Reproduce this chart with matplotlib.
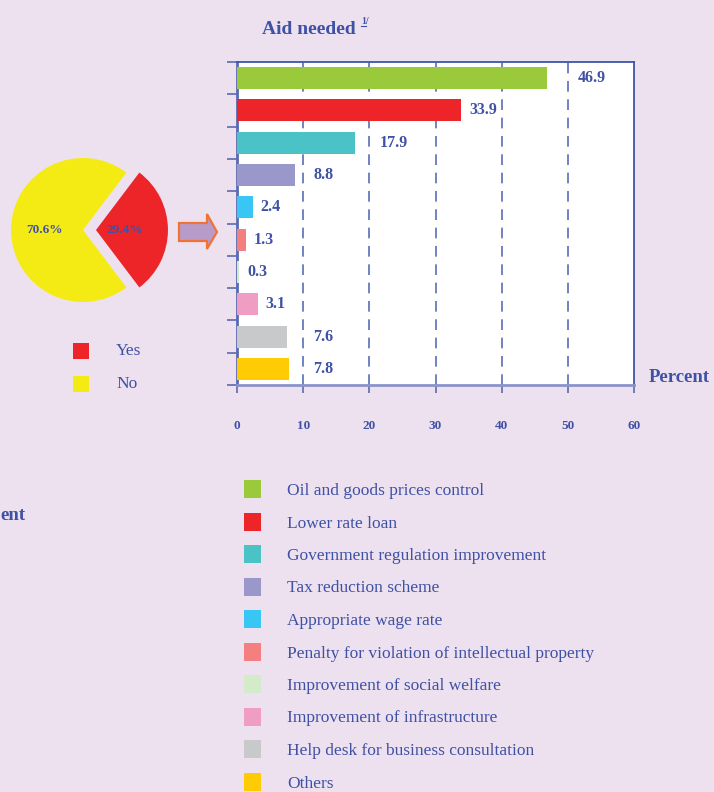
import numpy as np
import matplotlib
matplotlib.use("Agg")
import matplotlib.pyplot as plt
from matplotlib.patches import Rectangle, Polygon

# ---- data ----
categories = [
    "Oil and goods prices control",
    "Lower rate loan",
    "Government regulation improvement",
    "Tax reduction scheme",
    "Appropriate wage rate",
    "Penalty for violation of intellectual property",
    "Improvement of social welfare",
    "Improvement of infrastructure",
    "Help desk for business consultation",
    "Others",
]
aid_values = [46.9, 33.9, 17.9, 8.8, 2.4, 1.3, 0.3, 3.1, 7.6, 7.8]
bar_colors = ["#9ACA3C", "#EE2528", "#4BC2C5", "#9A98CA", "#38C6F4",
              "#F3807F", "#D3EBC9", "#F09DC3", "#C8C9CB", "#FFCB05"]
x_ticks = [0, 10, 20, 30, 40, 50, 60]

pie_labels = ["Yes", "No"]
pie_values = [29.4, 70.6]
pie_colors = ["#EE2528", "#F5EB14"]

# ---- style ----
BG = "#EDE1EF"
BLUE = "#3F51A5"
SERIF = ["Liberation Serif", "DejaVu Serif"]
plt.rcParams["font.family"] = SERIF

W, H = 714, 792
fig = plt.figure(figsize=(W / 100, H / 100), dpi=100, facecolor=BG)

# overlay in pixel coordinates for annotations, arrow and legends
ov = fig.add_axes([0, 0, 1, 1])
ov.set_xlim(0, W)
ov.set_ylim(H, 0)
ov.axis("off")

# ---- bar chart ----
ax = fig.add_axes([237 / W, 1 - 385 / H, 397 / W, 323 / H])
ax.set_facecolor("white")
ypos = np.arange(len(categories))
ax.barh(ypos, aid_values, height=0.68, color=bar_colors, zorder=3)
ax.set_xlim(0, 60)
ax.set_ylim(len(categories) - 0.5, -0.5)
ax.set_xticks(x_ticks)
ax.set_xticklabels([str(t) for t in x_ticks], fontsize=9.5,
                   fontweight="bold", color=BLUE)
ax.set_yticks(np.arange(-0.5, len(categories), 1.0))
ax.set_yticklabels([])
ax.tick_params(axis="x", direction="out", length=6, width=1.2,
               color="#5A6AB0", pad=19)
ax.tick_params(axis="y", direction="out", length=7, width=1.2,
               color="#5A6AB0")
for t in x_ticks[1:-1]:
    ax.axvline(t, color="#4A62B0", lw=1.1, dashes=(7, 5), zorder=1)
ax.spines["left"].set_color("#5A6AB0")
ax.spines["left"].set_linewidth(2.0)
ax.spines["bottom"].set_color("#8B93C9")
ax.spines["bottom"].set_linewidth(2.0)
for s in ("top", "right"):
    ax.spines[s].set_color("#3B55A8")
    ax.spines[s].set_linewidth(1.3)


def label_pos(v):
    # place the value label just past the bar, skipping over a gridline
    x = v + 1.2
    nxt = (np.floor(v / 10) + 1) * 10
    if nxt < x + 4.0:
        x = nxt + 1.5
    return x


for y, v in zip(ypos, aid_values):
    ax.text(label_pos(v), y, f"{v:.1f}", va="center", ha="left",
            fontsize=11.5, fontweight="bold", color=BLUE, zorder=4)

fig.text(262 / W, 1 - 30 / H, "Aid needed", fontsize=14, fontweight="bold",
         color=BLUE, ha="left", va="center")
fig.text(361 / W, 1 - 22 / H, "1/", fontsize=7, fontweight="bold",
         color=BLUE, ha="left", va="center")
ov.plot([361, 366], [26, 26], color=BLUE, lw=0.8)
fig.text(649 / W, 1 - 378 / H, "Percent", fontsize=13.5, fontweight="bold",
         color=BLUE, ha="left", va="center")
fig.text(0.5 / W, 1 - 515 / H, "ent", fontsize=13.5, fontweight="bold",
         color=BLUE, ha="left", va="center")

# ---- pie ----
R = 72.0
cx, cy = 83.0, 230.0
pax = fig.add_axes([(cx - 1.1 * R) / W, 1 - (cy + 1.1 * R) / H,
                    2.4 * R / W, 2.2 * R / H])
start = -pie_values[0] / 100 * 360 / 2
wedges, _, autotexts = pax.pie(
    pie_values, colors=pie_colors, explode=[0.18, 0], startangle=start,
    counterclock=True, autopct="%.1f%%", pctdistance=0.5,
    wedgeprops=dict(linewidth=0), textprops=dict(fontsize=9.5,
                                                 fontweight="bold",
                                                 color=BLUE),
    radius=1.0, frame=True)
pax.set_xlim(-1.1, 1.3)
pax.set_ylim(-1.1, 1.1)
pax.set_aspect("auto")
pax.axis("off")
autotexts[0].set_position((0.18 + 0.4, 0))
autotexts[1].set_position((-0.53, 0))

# pie legend
for i, (lab, col) in enumerate(zip(pie_labels, pie_colors)):
    yc = 351 + i * 32.5
    ov.add_patch(Rectangle((73, yc - 8), 16, 16, facecolor=col,
                           edgecolor="none"))
    ov.text(116, yc, lab, fontsize=12.5, color=BLUE, ha="left", va="center")

# arrow between pie and bars
arrow_pts = [(179, 223), (207, 223), (207, 214), (217, 232),
             (207, 249), (207, 241), (179, 241)]
ov.add_patch(Polygon(arrow_pts, closed=True, facecolor="#B89BC9",
                     edgecolor="#F07235", linewidth=1.6))

# ---- category legend ----
for i, (lab, col) in enumerate(zip(categories, bar_colors)):
    yc = 489 + i * 32.5
    ov.add_patch(Rectangle((244, yc - 9), 17, 18, facecolor=col,
                           edgecolor="none"))
    ov.text(287, yc + 2, lab, fontsize=12.5, color=BLUE, ha="left",
            va="center")

fig.savefig("out.png", dpi=100, facecolor=BG)
